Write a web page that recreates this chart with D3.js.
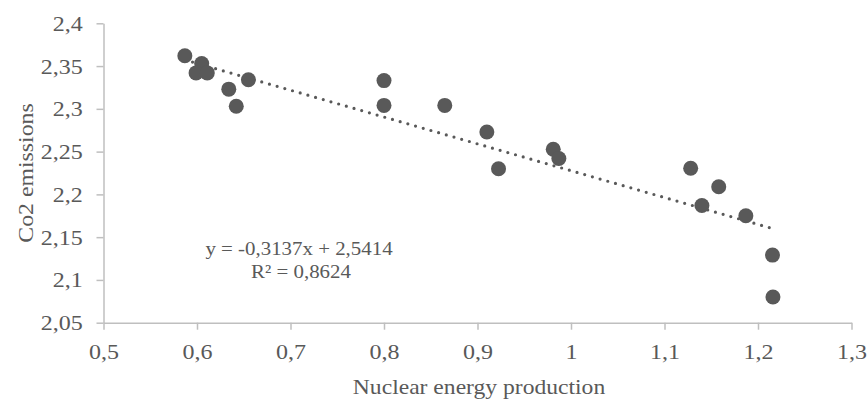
<!DOCTYPE html>
<html><head><meta charset="utf-8">
<script src="https://cdn.jsdelivr.net/npm/d3@7"></script>
<style>body{margin:0;background:#fff}svg{display:block}</style>
</head><body>
<script>
const nuclear = [0.587,0.605,0.599,0.611,0.634,0.642,0.655,0.800,0.800,0.865,0.910,0.9225,0.981,0.987,1.128,1.140,1.158,1.187,1.2155,1.216];
const co2     = [2.362,2.353,2.342,2.342,2.323,2.303,2.334,2.333,2.304,2.304,2.273,2.230,2.2527,2.242,2.2305,2.187,2.209,2.175,2.129,2.080];
const xTicks = [0.5,0.6,0.7,0.8,0.9,1.0,1.1,1.2,1.3];
const yTicks = [2.05,2.1,2.15,2.2,2.25,2.3,2.35,2.4];
const slope = -0.3137, intercept = 2.5414;
const eqLines = ["y = -0,3137x + 2,5414", "R² = 0,8624"];
const xTitle = "Nuclear energy production";
const yTitle = "Co2 emissions";

const W = 867, H = 399;
const fmt = v => String(+v.toFixed(2)).replace('.', ',');
const svg = d3.select("body").append("svg").attr("width", W).attr("height", H);
const x = d3.scaleLinear().domain([0.5, 1.3]).range([103.5, 851.5]);
const y = d3.scaleLinear().domain([2.05, 2.4]).range([322.7, 23.3]);
const font = "'Liberation Serif','Times New Roman',serif";
const txt = "#595959", axisCol = "#bfbfbf";
const SX = 1.2; // horizontal stretch of the reference glyphs

const xa = svg.append("g").attr("transform", `translate(0,${y(2.05)})`)
  .call(d3.axisBottom(x).tickValues(xTicks).tickFormat(fmt).tickSize(7).tickSizeOuter(0).tickPadding(16));
const ya = svg.append("g").attr("transform", `translate(${x(0.5)},0)`)
  .call(d3.axisLeft(y).tickValues(yTicks).tickFormat(fmt).tickSize(7).tickSizeOuter(0));
[xa, ya].forEach(g => {
  g.selectAll("path,line").attr("stroke", axisCol).attr("stroke-width", 1.5);
  g.selectAll("text").attr("fill", txt).attr("font-family", font).attr("font-size", 20)
    .attr("transform", `scale(${SX},1)`);
});
xa.selectAll("text").attr("dy", null).attr("y", 36.8);
ya.selectAll("text").attr("dy", null).attr("y", 7).attr("x", -20.8 / SX);

// trendline
const xmin = d3.min(nuclear), xmax = d3.max(nuclear);
svg.append("line")
  .attr("x1", x(xmin)).attr("y1", y(slope * xmin + intercept))
  .attr("x2", x(xmax)).attr("y2", y(slope * xmax + intercept))
  .attr("stroke", "#595959").attr("stroke-width", 3.2)
  .attr("stroke-linecap", "round").attr("stroke-dasharray", "0 8");

svg.append("g").selectAll("circle").data(nuclear).join("circle")
  .attr("cx", d => x(d)).attr("cy", (d, i) => y(co2[i])).attr("r", 7.5)
  .attr("fill", "#595959");

svg.append("text").attr("transform", `translate(479,394) scale(1.18,1)`).attr("text-anchor", "middle")
  .attr("fill", txt).attr("font-family", font).attr("font-size", 20).text(xTitle);
svg.append("text").attr("transform", "translate(33,173) rotate(-90) scale(1.19,1)").attr("text-anchor", "middle")
  .attr("fill", txt).attr("font-family", font).attr("font-size", 20).text(yTitle);

svg.append("g").selectAll("text").data(eqLines).join("text")
  .attr("transform", (d, i) => `translate(${i ? 301 : 299},${255 + i * 23}) scale(1.1,1)`)
  .attr("text-anchor", "middle")
  .attr("fill", txt).attr("font-family", font).attr("font-size", 19).text(d => d);
</script>
</body></html>
